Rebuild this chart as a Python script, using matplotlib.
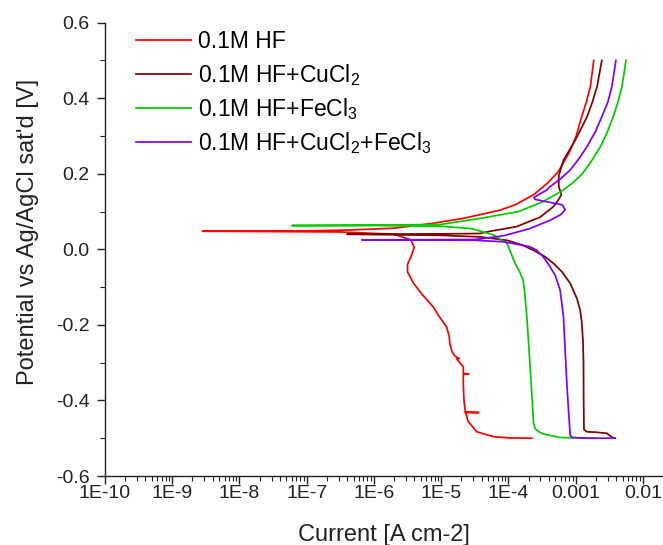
import numpy as np
import matplotlib
matplotlib.use("Agg")
import matplotlib.pyplot as plt
from matplotlib.ticker import FixedLocator, FixedFormatter, MultipleLocator, LogLocator, NullFormatter, FormatStrFormatter

plt.rcParams['font.family'] = ['Liberation Sans', 'DejaVu Sans']
plt.rcParams['mathtext.fontset'] = 'custom'
plt.rcParams['mathtext.rm'] = 'Liberation Sans'
plt.rcParams['mathtext.default'] = 'regular'
plt.rcParams['axes.unicode_minus'] = False

# ---- data: log10(current density [A cm-2]) and potential [V] ----
hf_logi = [-3.65, -4.00, -4.22, -4.47, -4.60, -4.62, -4.64, -4.44, -4.64, -4.66, -4.67, -4.67, -4.59, -4.67,
           -4.67, -4.77, -4.73, -4.80, -4.84, -4.87, -4.88, -4.92, -5.02, -5.12, -5.28, -5.41, -5.50, -5.50,
           -5.44, -5.40, -5.45, -5.70, -6.50, -8.55, -7.00, -6.40, -5.70, -5.16, -4.67, -4.12, -3.90, -3.62,
           -3.42, -3.26, -3.09, -2.99, -2.91, -2.84, -2.78, -2.73]
hf_E = [-0.500, -0.499, -0.496, -0.483, -0.455, -0.440, -0.432, -0.432, -0.431, -0.400, -0.360, -0.331, -0.330, -0.328,
        -0.311, -0.290, -0.289, -0.282, -0.270, -0.250, -0.230, -0.205, -0.180, -0.152, -0.120, -0.090, -0.060, -0.040,
        -0.015, 0.005, 0.025, 0.040, 0.046, 0.048, 0.049, 0.051, 0.056, 0.068, 0.082, 0.104, 0.118, 0.145,
        0.175, 0.205, 0.258, 0.300, 0.351, 0.390, 0.431, 0.500]

cu_logi = [-2.41, -2.46, -2.535, -2.70, -2.832, -2.875, -2.88, -2.882, -2.89, -2.91, -2.932, -2.98, -3.08, -3.20,
           -3.33, -3.45, -3.63, -3.80, -4.02, -4.42, -5.00, -6.40, -5.00, -4.42, -4.27, -3.88, -3.53, -3.33,
           -3.26, -3.21, -3.25, -3.25, -3.18, -3.03, -2.93, -2.83, -2.75, -2.68, -2.61]
cu_E = [-0.500, -0.497, -0.487, -0.484, -0.483, -0.477, -0.400, -0.300, -0.240, -0.190, -0.161, -0.130, -0.090, -0.060,
        -0.037, -0.020, -0.002, 0.012, 0.024, 0.033, 0.037, 0.040, 0.041, 0.042, 0.048, 0.060, 0.085, 0.113,
        0.130, 0.145, 0.166, 0.195, 0.236, 0.281, 0.315, 0.351, 0.390, 0.431, 0.500]

fe_logi = [-2.69, -3.03, -3.23, -3.45, -3.53, -3.60, -3.626, -3.63, -3.676, -3.725, -3.76, -3.78, -3.83, -3.90,
           -3.95, -4.02, -4.22, -4.55, -5.00, -6.00, -7.22, -6.00, -5.00, -4.42, -3.85, -3.50, -3.20, -3.05,
           -2.90, -2.76, -2.63, -2.53, -2.44, -2.37, -2.31, -2.25]
fe_E = [-0.500, -0.499, -0.498, -0.490, -0.485, -0.475, -0.460, -0.444, -0.311, -0.179, -0.110, -0.082, -0.060, -0.037,
        -0.015, 0.016, 0.038, 0.055, 0.061, 0.063, 0.063, 0.064, 0.066, 0.082, 0.100, 0.125, 0.155, 0.175,
        0.200, 0.235, 0.272, 0.310, 0.351, 0.390, 0.431, 0.500]

cufe_logi = [-2.436, -2.80, -3.055, -3.08, -3.10, -3.13, -3.16, -3.18, -3.23, -3.30, -3.38, -3.48, -3.58, -3.68,
             -4.07, -4.50, -6.18, -4.50, -4.07, -3.68, -3.38, -3.22, -3.155, -3.20, -3.43, -3.60, -3.62, -3.55,
             -3.43, -3.38, -3.23, -3.08, -2.95, -2.83, -2.71, -2.61, -2.52, -2.46, -2.40]
cufe_E = [-0.500, -0.500, -0.498, -0.492, -0.440, -0.355, -0.250, -0.179, -0.108, -0.070, -0.046, -0.020, -0.002, 0.007,
          0.020, 0.024, 0.025, 0.026, 0.036, 0.055, 0.077, 0.092, 0.105, 0.118, 0.126, 0.132, 0.137, 0.145,
          0.157, 0.166, 0.186, 0.210, 0.240, 0.272, 0.310, 0.351, 0.390, 0.431, 0.500]

labels = ['0.1M HF', '0.1M HF+CuCl$_2$', '0.1M HF+FeCl$_3$', '0.1M HF+CuCl$_2$+FeCl$_3$']
colors = ['#FF0000', '#800000', '#00CC00', '#8000FF']

xtick_vals = [1e-10, 1e-9, 1e-8, 1e-7, 1e-6, 1e-5, 1e-4, 1e-3, 1e-2]
xtick_labels = ['1E-10', '1E-9', '1E-8', '1E-7', '1E-6', '1E-5', '1E-4', '0.001', '0.01']

series = [(hf_logi, hf_E), (cu_logi, cu_E), (fe_logi, fe_E), (cufe_logi, cufe_E)]

fig = plt.figure(figsize=(6.63, 5.45), dpi=100)
ax = fig.add_axes([105/663, 1-476/545, 557/663, 453.3/545])

for (li, e), lab, c in zip(series, labels, colors):
    ax.plot(10.0**np.array(li), e, color=c, lw=1.25, label=lab)

ax.set_xscale('log')
ax.set_xlim(1e-10, 1.93e-2)
ax.set_ylim(-0.6, 0.6)

ax.xaxis.set_major_locator(FixedLocator(xtick_vals))
ax.xaxis.set_major_formatter(FixedFormatter(xtick_labels))
ax.xaxis.set_minor_locator(LogLocator(base=10, subs=np.arange(2, 10), numticks=30))
ax.xaxis.set_minor_formatter(NullFormatter())
ax.yaxis.set_major_locator(MultipleLocator(0.2))
ax.yaxis.set_minor_locator(MultipleLocator(0.1))
ax.yaxis.set_major_formatter(FormatStrFormatter('%.1f'))

ax.spines['top'].set_visible(False)
ax.spines['right'].set_visible(False)
for s in ['left', 'bottom']:
    ax.spines[s].set_linewidth(1.0)
    ax.spines[s].set_color('#222222')

ax.tick_params(axis='x', which='major', direction='out', length=6, width=1, pad=0.5, labelsize=14, colors='#222222')
ax.tick_params(axis='x', which='minor', direction='out', length=3.5, width=0.8, colors='#222222')
ax.tick_params(axis='y', which='major', direction='out', length=6, width=1, pad=5, labelsize=14, colors='#222222')
ax.tick_params(axis='y', which='minor', direction='out', length=3.5, width=0.8, colors='#222222')

ax.set_xlabel('Current [A cm-2]', fontsize=17, labelpad=16, color='#222222')
ax.set_ylabel("Potential vs Ag/AgCl sat'd [V]", fontsize=17, color='#222222')
ax.yaxis.set_label_coords(-0.119, 0.538)

ax.legend(loc='upper left', bbox_to_anchor=(0.055, 0.983), frameon=False, fontsize=16.5,
          handlelength=2.4, handletextpad=0.3, labelspacing=0.36, borderaxespad=0, borderpad=0)

fig.savefig('out.png', dpi=100)
